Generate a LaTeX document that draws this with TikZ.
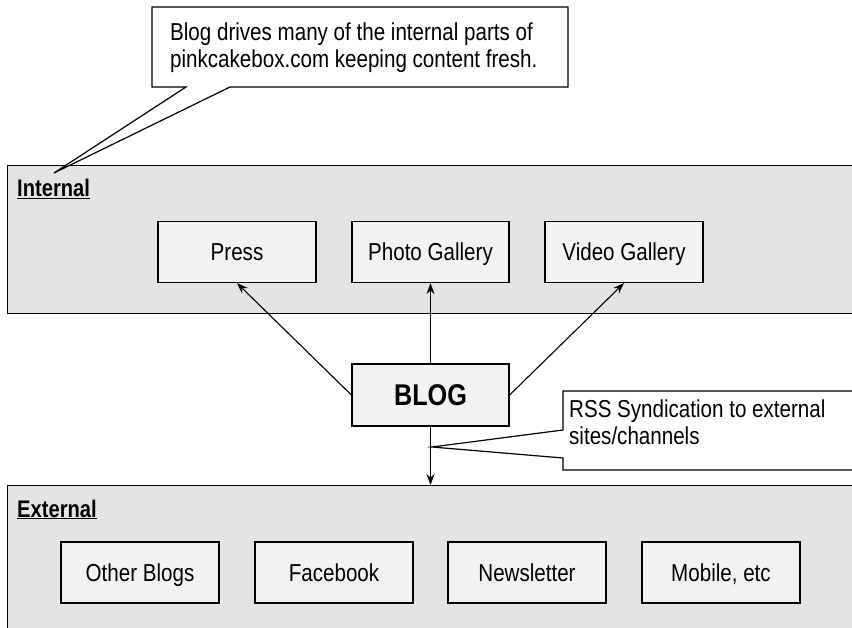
\documentclass[tikz,border=0pt]{standalone}
\usepackage{fontspec}
\setmainfont[FakeStretch=0.84]{Liberation Sans}
\usetikzlibrary{arrows.meta}
\definecolor{panelgray}{HTML}{E4E4E4}
\definecolor{boxgray}{HTML}{F2F2F2}
\begin{document}
\begin{tikzpicture}[x=1pt,y=-1pt,
  panel/.style={draw=black, line width=1.3pt, fill=panelgray, rectangle, anchor=north west, inner sep=0pt},
  itembox/.style={draw=black, line width=1.2pt, fill=boxgray, rectangle, minimum width=158pt, minimum height=61pt, inner sep=0pt, text height=19pt, text depth=1.5pt, font=\fontsize{24.5}{27}\selectfont},
  blogbox/.style={draw=black, line width=1.2pt, fill=boxgray, rectangle, minimum width=157pt, minimum height=62pt, inner sep=0pt, text height=22pt, text depth=0pt, font=\fontsize{30}{32}\selectfont\bfseries},
  paneltitle/.style={anchor=base west, inner sep=0pt, font=\fontsize{24}{27}\selectfont\bfseries},
  notebox/.style={draw=black, line width=1.2pt, fill=white, line join=miter},
  notetext/.style={anchor=west, align=left, inner sep=0pt, font=\fontsize{24.5}{27}\selectfont},
  conn/.style={draw=black, line width=1.1pt, -{Stealth[length=11pt,width=8pt]}}
]
\clip (0,0) rectangle (852,628);
\useasboundingbox (0,0) rectangle (852,628);

% panels
\node[panel, minimum width=860pt, minimum height=148pt] (internal) at (7,165) {};
\node[paneltitle] (intlabel) at (17,197) {\underline{Internal}};
\node[panel, minimum width=860pt, minimum height=170pt] (external) at (7,485) {};
\node[paneltitle] (extlabel) at (17,517) {\underline{External}};

% internal items
\node[itembox] (press) at (237,252) {Press};
\node[itembox, minimum width=157pt] (photo) at (430.5,252) {Photo Gallery};
\node[itembox] (video) at (624,252) {Video Gallery};

% external items
\node[itembox] (other) at (140,572.5) {Other Blogs};
\node[itembox] (facebook) at (334,572.5) {Facebook};
\node[itembox] (newsletter) at (527,572.5) {Newsletter};
\node[itembox] (mobile) at (721,572.5) {Mobile, etc};

% blog
\node[blogbox] (blog) at (430.5,395) {BLOG};

% top callout
\coordinate (tip1) at (54,173);
\path[notebox] (186,87) -- (152,87) -- (152,7) -- (568,7) -- (568,87) -- (230,87) -- (tip1) -- cycle;
\node[notetext] (note1) at (170,47.5) {Blog drives many of the internal parts of\\pinkcakebox.com keeping content fresh.};

% RSS callout
\coordinate (tip2) at (432,447);
\path[notebox] (563,430) -- (563,391) -- (860,391) -- (860,470) -- (563,470) -- (563,458) -- (tip2) -- cycle;
\node[notetext] (note2) at (569,422.5) {RSS Syndication to external\\sites/channels};

% connectors
\draw[conn] (blog.west) -- (press.south);
\draw[conn] (blog.north) -- (photo.south);
\draw[conn] (blog.east) -- (video.south);
\draw[conn] (blog.south) -- (blog.south |- external.north);
\end{tikzpicture}
\end{document}
